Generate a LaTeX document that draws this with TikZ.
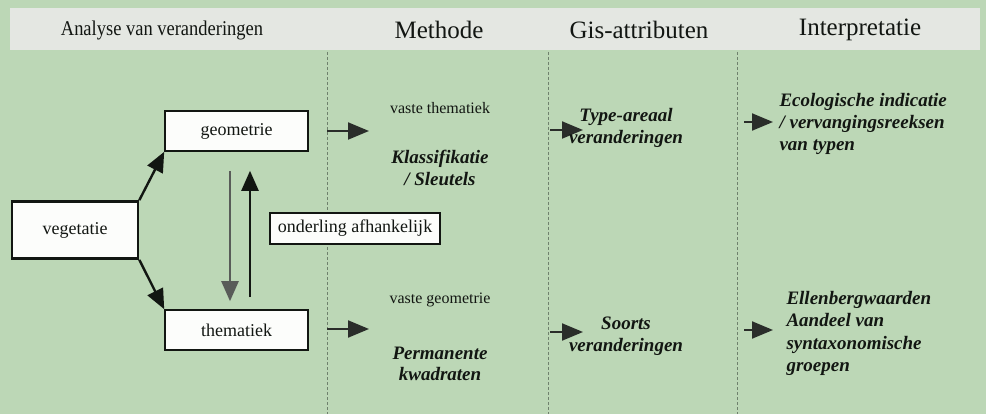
\documentclass[tikz,border=0pt]{standalone}
\usepackage{fontspec}
\setmainfont{Liberation Serif}
\usetikzlibrary{arrows.meta,calc}
\definecolor{bg}{HTML}{BCD7B6}
\definecolor{band}{HTML}{E4E7E2}
\definecolor{dash}{HTML}{6E806C}
\definecolor{ink}{HTML}{121612}
\tikzset{
  box/.style={draw=ink, line width=1.6pt, fill=white!95!bg, minimum height=40pt, inner sep=0pt, font=\fontsize{18}{20}\selectfont, text=ink},
  head/.style={font=\fontsize{25}{28}\selectfont, text=ink},
  plain/.style={font=\fontsize{16}{18}\selectfont, text=ink},
  ital/.style={font=\fontsize{19}{21.5}\selectfont\bfseries\itshape, text=ink, align=center},
  itl/.style={font=\fontsize{19}{22.3}\selectfont\bfseries\itshape, text=ink, align=left, anchor=west},
  sep/.style={draw=dash, line width=0.8pt, dash pattern=on 3pt off 2pt},
  darr/.style={draw=ink, line width=2.4pt, -{Triangle[length=20pt 0,width=17pt 0]}},
  rarr/.style={draw=ink!90, line width=2pt, -{Triangle[length=21pt 0,width=17pt 0]}},
}
\begin{document}
\begin{tikzpicture}[x=1pt,y=-1pt]
\fill[bg] (0,0) rectangle (986,414);
\useasboundingbox (0,0) rectangle (986,414);
\fill[band] (10,8) rectangle (980,50);
% separators
\draw[sep] (327,52) -- (327,414);
\draw[sep] (548,52) -- (548,414);
\draw[sep] (737,52) -- (737,414);
% headers
\node[head, font=\fontsize{21}{24}\selectfont, xscale=0.88] (h1) at (162,30) {Analyse van veranderingen};
\node[head] (h2) at (439,30) {Methode};
\node[head] (h3) at (639,30) {Gis-attributen};
\node[head] (h4) at (860,30) {Interpretatie};
% boxes
\node[box, line width=2.6pt, minimum width=126pt, minimum height=57pt] (veg) at (75,230) {vegetatie};
\node[box, minimum width=143pt] (geo) at (236.5,131) {geometrie};
\node[box, minimum width=143pt] (them) at (236.5,330) {thematiek};
% connectors
\draw[darr] (veg.north east) -- (geo.south west);
\draw[darr] (veg.south east) -- (them.north west);
\draw[darr, draw=ink!70] ([xshift=-6.5pt,yshift=-19pt]geo.south) -- ([xshift=-6.5pt,yshift=8pt]them.north);
\draw[darr] ([xshift=13.5pt,yshift=12pt]them.north) -- ([xshift=13.5pt,yshift=-19pt]geo.south);
\node[box, minimum width=170pt, minimum height=31pt, line width=1.4pt] (ond) at (355,228.5) {onderling afhankelijk};
% method column
\coordinate (m1) at (327,131);
\coordinate (m2) at (327,329);
\draw[rarr] (m1) -- ++(42,0);
\draw[rarr] (m2) -- ++(42,0);
\node[plain] (vt) at (440,108) {vaste thematiek};
\node[ital] (kl) at (440,168) {Klassifikatie\\/ Sleutels};
\node[plain] (vg) at (440,300) {vaste geometrie};
\node[ital] (pk) at (440,364) {Permanente\\kwadraten};
% gis column
\coordinate (g1) at (550,130);
\coordinate (g2) at (550,332);
\draw[rarr] (g1) -- ++(33,0);
\draw[rarr] (g2) -- ++(33,0);
\node[ital] (ta) at (626,128) {Type-areaal\\veranderingen};
\node[ital] (sv) at (626,336) {Soorts\\veranderingen};
% interpretation column
\coordinate (i1) at (744,122);
\coordinate (i2) at (744,330);
\draw[rarr] (i1) -- ++(29,0);
\draw[rarr] (i2) -- ++(29,0);
\node[itl] (ec) at (776,124) {Ecologische indicatie\\/ vervangingsreeksen\\van typen};
\node[itl] (el) at (783,333.5) {Ellenbergwaarden\\Aandeel van\\syntaxonomische\\groepen};
\end{tikzpicture}
\end{document}
